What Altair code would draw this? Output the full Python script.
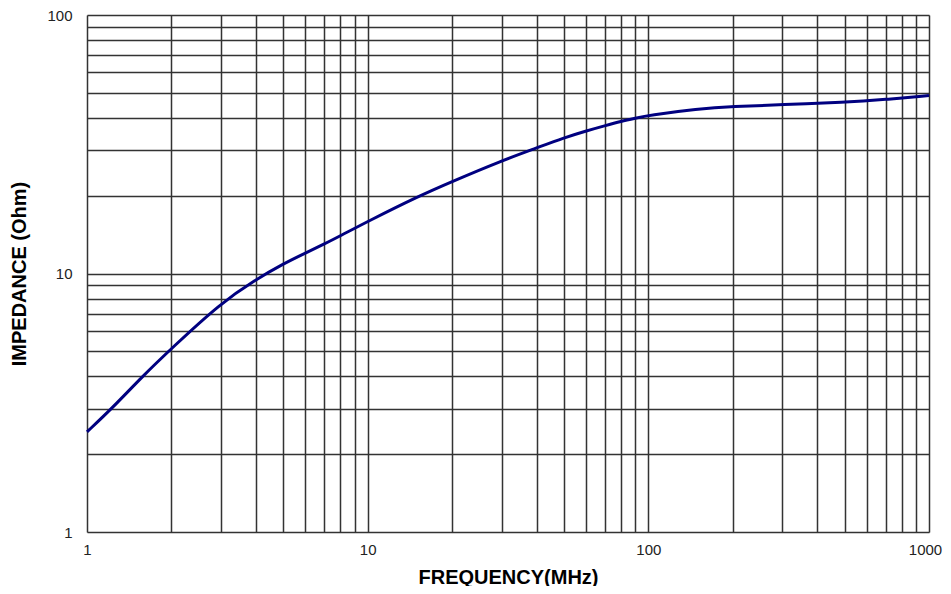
import altair as alt
import pandas as pd

freq = [1, 1.225, 1.575, 2, 3, 4, 5, 6, 7, 8, 10, 15, 20, 30, 40, 50, 60, 70, 80, 90,
        100, 150, 200, 300, 500, 700, 1000]
impedance = [2.44, 3.0, 4.0, 5.13, 7.7, 9.48, 10.9, 12.0, 13.0, 14.0, 15.9, 19.8, 22.7,
             27.3, 30.6, 33.5, 35.6, 37.3, 38.8, 39.9, 40.9, 43.3, 44.3, 45.0, 45.9,
             47.1, 48.8]

x_grid = [1, 2, 3, 4, 5, 6, 7, 8, 9, 10, 20, 30, 40, 50, 60, 70, 80, 90,
          100, 200, 300, 400, 500, 600, 700, 800, 900, 1000]
y_grid = [1, 2, 3, 4, 5, 6, 7, 8, 9, 10, 20, 30, 40, 50, 60, 70, 80, 90, 100]
x_labels = ["1", "10", "100", "1000"]
y_labels = ["1", "10", "100"]

df = pd.DataFrame({"f": freq, "z": impedance})

font = "Liberation Sans"

chart = (
    alt.Chart(df)
    .mark_line(color="#000080", strokeWidth=3, interpolate="basis")
    .encode(
        x=alt.X(
            "f:Q",
            scale=alt.Scale(type="log", domain=[1, 1000], nice=False),
            axis=alt.Axis(
                values=x_grid,
                format="d",
                labelExpr="indexof(%s, datum.label) >= 0 ? datum.label : ''" % str(x_labels),
                labelOverlap=False,
                labelFlush=False,
                labelOffset={"condition": {"test": "datum.value >= 1000", "value": -4}, "value": 0},
                ticks=False,
                domain=False,
                grid=True,
                gridColor="#333333",
                gridWidth=1.5,
                labelFont=font,
                labelFontSize=15,
                labelColor="#222222",
                labelPadding=10,
                title="FREQUENCY(MHz)",
                titleFont=font,
                titleFontSize=20,
                titleFontWeight="bold",
                titleColor="#000000",
                titlePadding=10,
            ),
        ),
        y=alt.Y(
            "z:Q",
            scale=alt.Scale(type="log", domain=[1, 100], nice=False),
            axis=alt.Axis(
                values=y_grid,
                format="d",
                labelExpr="indexof(%s, datum.label) >= 0 ? datum.label : ''" % str(y_labels),
                labelOverlap=False,
                labelFlush=False,
                ticks=False,
                domain=False,
                grid=True,
                gridColor="#333333",
                gridWidth=1.5,
                labelFont=font,
                labelFontSize=15,
                labelColor="#222222",
                labelPadding=15,
                title="IMPEDANCE  (Ohm)",
                titleFont=font,
                titleFontSize=20,
                titleFontWeight="bold",
                titleColor="#000000",
                titlePadding=17,
            ),
        ),
    )
    .properties(
        width=842,
        height=517,
        autosize=alt.AutoSizeParams(type="none"),
        padding={"left": 79, "top": 7, "right": 14, "bottom": 54},
    )
    .configure_view(stroke="#111111", strokeWidth=2.5)
    .configure(background="white")
)

chart.save("out.html", embed_options={"renderer": "svg", "actions": False})
